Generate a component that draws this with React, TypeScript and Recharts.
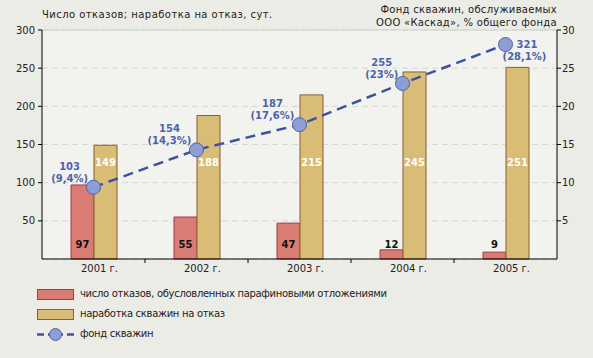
import React from 'react';
import {
  ComposedChart, Bar, Line, XAxis, YAxis, CartesianGrid, LabelList, ReferenceLine,
} from 'recharts';

const years = ['2001 г.', '2002 г.', '2003 г.', '2004 г.', '2005 г.'];
const failures = [97, 55, 47, 12, 9];
const mtbf = [149, 188, 215, 245, 251];
const wellCount = [103, 154, 187, 255, 321];
const wellShare = [9.4, 14.3, 17.6, 23, 28.1];
const leftTicks = [50, 100, 150, 200, 250, 300];
const rightTicks = [5, 10, 15, 20, 25, 30];

const titleLeft = 'Число отказов; наработка на отказ, сут.';
const titleRight1 = 'Фонд скважин, обслуживаемых';
const titleRight2 = 'ООО «Каскад», % общего фонда';
const legendNames = [
  'число отказов, обусловленных парафиновыми отложениями',
  'наработка скважин на отказ',
  'фонд скважин',
];

const data = years.map((y, i) => ({
  year: y,
  failures: failures[i],
  mtbf: mtbf[i],
  share: wellShare[i],
  count: wellCount[i],
}));

const FONT = '"DejaVu Sans", Verdana, sans-serif';
const RED = '#D97D74';
const RED_S = '#A23C47';
const YEL = '#D9BC75';
const YEL_S = '#8E5E2E';
const BLUE = '#3D52A3';
const BLUE_T = '#4D62AA';
const DOT = '#8C9ED3';

const fmtShare = (v: number) => '(' + String(v).replace('.', ',') + '%)';

const XTick = (props: any) => {
  const { x, y, payload, index, width } = props;
  const bw = width / years.length;
  const axisY = y - 6;
  return (
    <g>
      {index > 0 && (
        <line x1={x - bw / 2} x2={x - bw / 2} y1={axisY} y2={axisY + 4} stroke="#000" strokeWidth={1} />
      )}
      <text x={x + 6} y={y} dy="0.71em" textAnchor="middle" fontSize={10} fontFamily={FONT} fill="#222">
        {payload.value}
      </text>
    </g>
  );
};

const redLabel = (props: any) => {
  const { x, y, width, height, value } = props;
  return (
    <text x={x + width / 2} y={y + height - 15} dominantBaseline="central" textAnchor="middle"
      fontSize={10} fontWeight="bold" fontFamily={FONT} fill="#111">{value}</text>
  );
};

const yelLabel = (props: any) => {
  const { x, y, width, height, value } = props;
  return (
    <text x={x + width / 2} y={y + height - 97} dominantBaseline="central" textAnchor="middle"
      fontSize={10} fontWeight="bold" fontFamily={FONT} fill="#fff">{value}</text>
  );
};

const lineLabel = (props: any) => {
  const { x, y, index } = props;
  const n = String(wellCount[index]);
  const p = fmtShare(wellShare[index]);
  const common = { fontSize: 10, fontWeight: 'bold' as const, fontFamily: FONT, fill: BLUE_T, textAnchor: 'middle' as const, dominantBaseline: 'central' as const };
  if (index === years.length - 1) {
    return (
      <g>
        <text {...common} textAnchor="start" x={x + 11} y={y}>{n}</text>
        <text {...common} x={x + 19} y={y + 12}>{p}</text>
      </g>
    );
  }
  const cx = x - 5 - (p.length * 6.3) / 2;
  return (
    <g>
      <text {...common} x={cx} y={y - 21}>{n}</text>
      <text {...common} x={cx} y={y - 9}>{p}</text>
    </g>
  );
};

export default function App() {
  return (
    <div style={{ position: 'absolute', left: 0, top: 0, width: 593, height: 358, background: '#ECECE6', fontFamily: FONT, overflow: 'hidden' }}>
      <div style={{ position: 'absolute', left: 42, top: 9, fontSize: 10, color: '#222', whiteSpace: 'nowrap', lineHeight: '12px', letterSpacing: 0.45 }}>{titleLeft}</div>
      <div style={{ position: 'absolute', right: 36, top: 3, fontSize: 10, color: '#222', whiteSpace: 'nowrap', lineHeight: '13px', textAlign: 'right', letterSpacing: 0.3 }}>
        {titleRight1}<br />{titleRight2}
      </div>
      <div style={{ position: 'absolute', left: 0, top: 0 }}>
        <ComposedChart width={593} height={358} data={data} barSize={23} barGap={0}
          margin={{ top: 30, right: 0, bottom: 79, left: 0 }}>
          <CartesianGrid vertical={false} stroke="#D6D6D2" strokeDasharray="6 4" fill="#F2F2EE" yAxisId="left" />
          <ReferenceLine yAxisId="left" y={300} stroke="#D0D0CC" strokeWidth={1} />
          <XAxis dataKey="year" height={20} tickSize={4} tickMargin={2} tickLine={false}
            axisLine={{ stroke: '#000' }} tick={<XTick />} interval={0} />
          <YAxis yAxisId="left" width={42} domain={[0, 300]} ticks={leftTicks} interval={0}
            tickSize={4} tickMargin={3} axisLine={{ stroke: '#000' }} tickLine={{ stroke: '#000' }}
            tick={{ fontSize: 10, fill: '#222', fontFamily: FONT }} />
          <YAxis yAxisId="right" orientation="right" width={36} domain={[0, 30]} ticks={rightTicks} interval={0}
            tickSize={4} tickMargin={1} axisLine={{ stroke: '#000' }} tickLine={{ stroke: '#000' }}
            tick={{ fontSize: 10, fill: '#222', fontFamily: FONT }} />
          <Bar yAxisId="left" dataKey="failures" fill={RED} stroke={RED_S} strokeWidth={1} isAnimationActive={false}>
            <LabelList dataKey="failures" content={redLabel} />
          </Bar>
          <Bar yAxisId="left" dataKey="mtbf" fill={YEL} stroke={YEL_S} strokeWidth={1} isAnimationActive={false}>
            <LabelList dataKey="mtbf" content={yelLabel} />
          </Bar>
          <Line yAxisId="right" dataKey="share" stroke={BLUE} strokeWidth={2.5} strokeDasharray="10 6"
            dot={{ r: 7, fill: DOT, stroke: BLUE_T, strokeWidth: 1, strokeDasharray: '0' }}
            isAnimationActive={false}>
            <LabelList dataKey="count" content={lineLabel} />
          </Line>
        </ComposedChart>
      </div>
      <div style={{ position: 'absolute', left: 37, top: 284, fontSize: 10, color: '#222', lineHeight: '20px' }}>
        {legendNames.map((name, i) => (
          <div key={name} style={{ display: 'flex', alignItems: 'center', height: 20 }}>
            <svg width={38} height={20} style={{ marginRight: 5 }}>
              {i === 0 && <rect x={0.5} y={5.5} width={36} height={10} fill={RED} stroke={RED_S} />}
              {i === 1 && <rect x={0.5} y={5.5} width={36} height={10} fill={YEL} stroke={YEL_S} />}
              {i === 2 && (
                <g>
                  <line x1={0} x2={7} y1={10.5} y2={10.5} stroke={BLUE} strokeWidth={2.5} />
                  <line x1={30} x2={37} y1={10.5} y2={10.5} stroke={BLUE} strokeWidth={2.5} />
                  <line x1={11} x2={26} y1={10.5} y2={10.5} stroke={BLUE} strokeWidth={2.5} />
                  <circle cx={18.5} cy={10.5} r={6} fill={DOT} stroke={BLUE_T} />
                </g>
              )}
            </svg>
            <span style={{ whiteSpace: 'nowrap', letterSpacing: -0.3 }}>{name}</span>
          </div>
        ))}
      </div>
    </div>
  );
}
